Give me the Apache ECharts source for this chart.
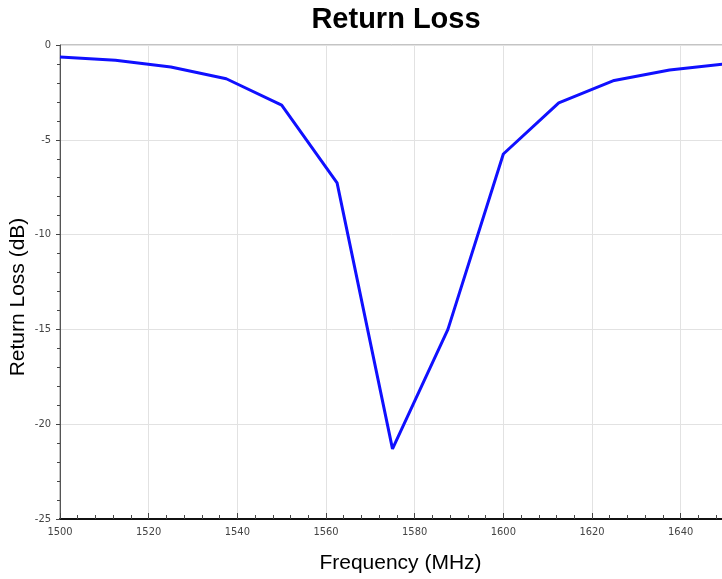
<!DOCTYPE html>
<html><head><meta charset="utf-8">
<script src="https://cdn.jsdelivr.net/npm/echarts@6/dist/echarts.min.js"></script>
<style>html,body{margin:0;padding:0;background:#fff}#c{width:722px;height:579px}</style>
</head><body><div id="c"></div>
<script>
const frequencies = [1500, 1512.5, 1525, 1537.5, 1550, 1562.5, 1575, 1587.5, 1600, 1612.5, 1625, 1637.5, 1650];
const returnLoss = [-0.63, -0.8, -1.16, -1.78, -3.17, -7.27, -21.3, -15.0, -5.75, -3.05, -1.87, -1.32, -1.0];
const chart = echarts.init(document.getElementById('c'));
const tickFont = '"Liberation Sans Narrow", "DejaVu Sans Condensed", "Liberation Sans", sans-serif';
chart.setOption({
  animation: false,
  title: { text: 'Return Loss', left: 391, textAlign: 'center', top: 0,
    textStyle: { fontFamily: 'Liberation Sans, Arial, sans-serif', fontWeight: 'bold', fontSize: 29, color: '#000' } },
  grid: { left: 60, right: -3, top: 45, bottom: 60, show: true, borderColor: '#888', borderWidth: 1,
    outerBoundsMode: 'none', containLabel: false },
  xAxis: {
    type: 'value', min: 1500, max: 1650, interval: 20,
    name: 'Frequency (MHz)', nameLocation: 'middle', nameGap: 34,
    nameTextStyle: { fontFamily: 'Liberation Sans, Arial, sans-serif', fontSize: 21, color: '#000', padding: [0, 0, 0, 16] },
    axisLine: { show: true, onZero: false, lineStyle: { color: '#111', width: 2 } },
    axisTick: { show: true, inside: true, length: 6, lineStyle: { color: '#444' } },
    minorTick: { show: true, splitNumber: 5, length: 4, lineStyle: { color: '#444' } },
    axisLabel: { fontFamily: tickFont, fontSize: 11, color: '#444', margin: 8, showMaxLabel: false,
      formatter: v => String(v) },
    splitLine: { show: true, lineStyle: { color: '#e2e2e2' } }
  },
  yAxis: {
    type: 'value', min: -25, max: 0, interval: 5,
    name: 'Return Loss (dB)', nameLocation: 'middle', nameGap: 31, nameMoveOverlap: false,
    nameTextStyle: { fontFamily: 'Liberation Sans, Arial, sans-serif', fontSize: 21, color: '#000', padding: [0, 30, 0, 0] },
    axisLine: { show: true, onZero: false, lineStyle: { color: '#555', width: 1 } },
    axisTick: { show: true, inside: false, length: 4, lineStyle: { color: '#444' } },
    minorTick: { show: true, splitNumber: 5, length: 3, lineStyle: { color: '#444' } },
    axisLabel: { fontFamily: tickFont, fontSize: 11, color: '#444', margin: 9 },
    splitLine: { show: true, lineStyle: { color: '#e2e2e2' } }
  },
  series: [{
    type: 'line', data: frequencies.map((f, i) => [f, returnLoss[i]]),
    showSymbol: false, symbol: 'none', clip: true,
    lineStyle: { color: '#1010ff', width: 3 }
  }]
});
</script></body></html>
